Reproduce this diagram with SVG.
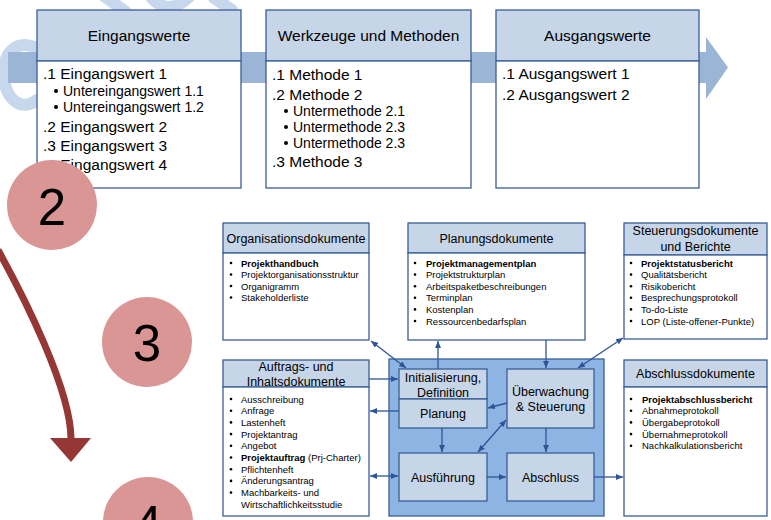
<svg xmlns="http://www.w3.org/2000/svg" width="771" height="520" viewBox="0 0 771 520">
  <defs>
    <style>
      text { font-family: "Liberation Sans", Arial, sans-serif; fill: #000; }
      .hdr { fill: #c6d5e8; stroke: #3a5f96; stroke-width: 1.3; }
      .body { fill: #ffffff; stroke: #3a5f96; stroke-width: 1.3; }
      .h1 { font-size: 15.5px; text-anchor: middle; }
      .t1 { font-size: 15.5px; }
      .t2 { font-size: 14px; }
      .h2 { font-size: 12.5px; text-anchor: middle; }
      .t3 { font-size: 9.5px; }
      .b { font-weight: bold; }
      .proc { fill: #c6d5e8; stroke: #3a5f96; stroke-width: 1.3; }
      .pt { font-size: 12.5px; text-anchor: middle; }
      .con { fill: none; stroke: #2f5597; stroke-width: 1.3; }
      .step { fill: #d99694; }
      .num { font-size: 51px; text-anchor: middle; }
      .swirl { fill: none; stroke: #c8d8ec; stroke-width: 12; stroke-linecap: round; }
    </style>
    <marker id="ah" viewBox="0 0 7 6" markerWidth="7" markerHeight="6" refX="7" refY="3" orient="auto-start-reverse" markerUnits="userSpaceOnUse">
      <path d="M0,0 L7,3 L0,6 z" fill="#2f5597"/>
    </marker>
  </defs>

  <!-- pale coil in the background -->
  <g id="coil">
    <path class="swirl" d="M37,48 C14,38 2,55 4,78 C6,100 22,112 37,100"/>
    <path class="swirl" d="M104,-4 L126,12"/>
    <path class="swirl" d="M150,-4 Q168,18 190,-4"/>
    <path class="swirl" d="M214,-2 L232,10"/>
  </g>

  <!-- process flow band -->
  <g id="band">
    <rect x="8" y="52" width="700" height="31" fill="#9bb5d6"/>
    <polygon points="706,37 728,67.5 706,99" fill="#9bb5d6"/>
  </g>

  <!-- input values -->
  <g id="eingangswerte">
    <rect class="hdr" x="37" y="10" width="204" height="51"/>
    <rect class="body" x="37" y="61" width="204" height="127"/>
    <text class="h1" x="139" y="40.5">Eingangswerte</text>
    <text class="t1" x="43" y="78.5">.1 Eingangswert 1</text>
    <circle cx="56" cy="91" r="2"/>
    <text class="t2" x="63" y="96">Untereingangswert 1.1</text>
    <circle cx="56" cy="107" r="2"/>
    <text class="t2" x="63" y="112">Untereingangswert 1.2</text>
    <text class="t1" x="43" y="131.5">.2 Eingangswert 2</text>
    <text class="t1" x="43" y="150.5">.3 Eingangswert 3</text>
    <text class="t1" x="43" y="169.5">.4 Eingangswert 4</text>
  </g>

  <!-- tools and methods -->
  <g id="werkzeuge">
    <rect class="hdr" x="266" y="10" width="205" height="51"/>
    <rect class="body" x="266" y="61" width="205" height="127"/>
    <text class="h1" x="368.5" y="40.5">Werkzeuge und Methoden</text>
    <text class="t1" x="272" y="79.5">.1 Methode 1</text>
    <text class="t1" x="272" y="99.5">.2 Methode 2</text>
    <circle cx="286" cy="111" r="2"/>
    <text class="t2" x="293" y="116">Untermethode 2.1</text>
    <circle cx="286" cy="127" r="2"/>
    <text class="t2" x="293" y="132">Untermethode 2.3</text>
    <circle cx="286" cy="143" r="2"/>
    <text class="t2" x="293" y="148">Untermethode 2.3</text>
    <text class="t1" x="272" y="166.5">.3 Methode 3</text>
  </g>

  <!-- output values -->
  <g id="ausgangswerte">
    <rect class="hdr" x="496" y="10" width="203" height="51"/>
    <rect class="body" x="496" y="61" width="203" height="127"/>
    <text class="h1" x="597.5" y="40.5">Ausgangswerte</text>
    <text class="t1" x="502" y="78.5">.1 Ausgangswert 1</text>
    <text class="t1" x="502" y="99.5">.2 Ausgangswert 2</text>
  </g>

  <!-- document groups -->
  <g id="organisationsdokumente">
    <rect class="hdr" x="223" y="223" width="146" height="30"/>
    <rect class="body" x="223" y="253" width="146" height="87"/>
    <text class="h2" x="296" y="242.5">Organisationsdokumente</text>
    <g class="t3">
      <circle cx="231" cy="263" r="1.3"/><text x="241" y="266.5" class="t3 b">Projekthandbuch</text>
      <circle cx="231" cy="274.5" r="1.3"/><text x="241" y="278" class="t3">Projektorganisationsstruktur</text>
      <circle cx="231" cy="286" r="1.3"/><text x="241" y="289.5" class="t3">Organigramm</text>
      <circle cx="231" cy="297.5" r="1.3"/><text x="241" y="301" class="t3">Stakeholderliste</text>
    </g>
  </g>

  <g id="planungsdokumente">
    <rect class="hdr" x="408" y="223" width="177" height="30"/>
    <rect class="body" x="408" y="253" width="177" height="87"/>
    <text class="h2" x="496.5" y="242.5">Planungsdokumente</text>
    <circle cx="415" cy="263" r="1.3"/><text x="426" y="266.5" class="t3 b">Projektmanagementplan</text>
    <circle cx="415" cy="274.6" r="1.3"/><text x="426" y="278.1" class="t3">Projektstrukturplan</text>
    <circle cx="415" cy="286.2" r="1.3"/><text x="426" y="289.7" class="t3">Arbeitspaketbeschreibungen</text>
    <circle cx="415" cy="297.8" r="1.3"/><text x="426" y="301.3" class="t3">Terminplan</text>
    <circle cx="415" cy="309.4" r="1.3"/><text x="426" y="312.9" class="t3">Kostenplan</text>
    <circle cx="415" cy="321" r="1.3"/><text x="426" y="324.5" class="t3">Ressourcenbedarfsplan</text>
  </g>

  <g id="steuerungsdokumente">
    <rect class="hdr" x="624" y="223" width="143" height="32"/>
    <rect class="body" x="624" y="255" width="143" height="84"/>
    <text class="h2" x="695.5" y="234.5">Steuerungsdokumente</text>
    <text class="h2" x="695.5" y="251">und Berichte</text>
    <circle cx="631" cy="263" r="1.3"/><text x="641" y="266.5" class="t3 b">Projektstatusbericht</text>
    <circle cx="631" cy="274.6" r="1.3"/><text x="641" y="278.1" class="t3">Qualitätsbericht</text>
    <circle cx="631" cy="286.2" r="1.3"/><text x="641" y="289.7" class="t3">Risikobericht</text>
    <circle cx="631" cy="297.8" r="1.3"/><text x="641" y="301.3" class="t3">Besprechungsprotokoll</text>
    <circle cx="631" cy="309.4" r="1.3"/><text x="641" y="312.9" class="t3">To-do-Liste</text>
    <circle cx="631" cy="321" r="1.3"/><text x="641" y="324.5" class="t3">LOP (Liste-offener-Punkte)</text>
  </g>

  <g id="auftragsdokumente">
    <rect class="hdr" x="223" y="360" width="146" height="27"/>
    <rect class="body" x="223" y="387" width="146" height="129"/>
    <text class="h2" x="296" y="371">Auftrags- und</text>
    <text class="h2" x="296" y="385.5">Inhaltsdokumente</text>
    <circle cx="231" cy="399" r="1.3"/><text x="241" y="402.5" class="t3">Ausschreibung</text>
    <circle cx="231" cy="410.7" r="1.3"/><text x="241" y="414.2" class="t3">Anfrage</text>
    <circle cx="231" cy="422.4" r="1.3"/><text x="241" y="425.9" class="t3">Lastenheft</text>
    <circle cx="231" cy="434.1" r="1.3"/><text x="241" y="437.6" class="t3">Projektantrag</text>
    <circle cx="231" cy="445.8" r="1.3"/><text x="241" y="449.3" class="t3">Angebot</text>
    <circle cx="231" cy="457.5" r="1.3"/><text x="241" y="461" class="t3"><tspan class="b">Projektauftrag</tspan> (Prj-Charter)</text>
    <circle cx="231" cy="469.2" r="1.3"/><text x="241" y="472.7" class="t3">Pflichtenheft</text>
    <circle cx="231" cy="480.9" r="1.3"/><text x="241" y="484.4" class="t3">Änderungsantrag</text>
    <circle cx="231" cy="492.6" r="1.3"/><text x="241" y="496.1" class="t3">Machbarkeits- und</text>
    <text x="241" y="507.8" class="t3">Wirtschaftlichkeitsstudie</text>
  </g>

  <g id="abschlussdokumente">
    <rect class="hdr" x="624" y="360" width="143" height="27"/>
    <rect class="body" x="624" y="387" width="143" height="129"/>
    <text class="h2" x="695.5" y="377.5">Abschlussdokumente</text>
    <circle cx="631" cy="399" r="1.3"/><text x="642" y="402.5" class="t3 b">Projektabschlussbericht</text>
    <circle cx="631" cy="410.7" r="1.3"/><text x="642" y="414.2" class="t3">Abnahmeprotokoll</text>
    <circle cx="631" cy="422.4" r="1.3"/><text x="642" y="425.9" class="t3">Übergabeprotokoll</text>
    <circle cx="631" cy="434.1" r="1.3"/><text x="642" y="437.6" class="t3">Übernahmeprotokoll</text>
    <circle cx="631" cy="445.8" r="1.3"/><text x="642" y="449.3" class="t3">Nachkalkulationsbericht</text>
  </g>

  <!-- project phases -->
  <g id="phasen">
    <rect x="389" y="359" width="215" height="157" fill="#8eb4e3" stroke="#3a5f96" stroke-width="1.3"/>
  </g>
  <g id="initialisierung">
    <rect class="proc" x="399" y="369" width="88" height="30"/>
    <text class="pt" x="443" y="381.5">Initialisierung,</text>
    <text class="pt" x="443" y="396.5">Definition</text>
  </g>
  <g id="planung">
    <rect class="proc" x="399" y="399" width="88" height="29"/>
    <text class="pt" x="443" y="417.5">Planung</text>
  </g>
  <g id="ueberwachung">
    <rect class="proc" x="507" y="369" width="87" height="59"/>
    <text class="pt" x="550.5" y="395.5">Überwachung</text>
    <text class="pt" x="550.5" y="410.5">&amp; Steuerung</text>
  </g>
  <g id="ausfuehrung">
    <rect class="proc" x="399" y="453" width="88" height="48"/>
    <text class="pt" x="443" y="481.5">Ausführung</text>
  </g>
  <g id="abschluss">
    <rect class="proc" x="507" y="453" width="87" height="48"/>
    <text class="pt" x="550.5" y="481.5">Abschluss</text>
  </g>

  <!-- connectors -->
  <g id="connectors">
    <path class="con" d="M371,341 L406,368" marker-start="url(#ah)" marker-end="url(#ah)"/>
    <path class="con" d="M438,369 L438,341" marker-end="url(#ah)"/>
    <path class="con" d="M546,340 L546,368" marker-end="url(#ah)"/>
    <path class="con" d="M623,338 L578,368" marker-start="url(#ah)" marker-end="url(#ah)"/>
    <path class="con" d="M369,379 L398,379" marker-end="url(#ah)"/>
    <path class="con" d="M399,411 L370,411" marker-end="url(#ah)"/>
    <path class="con" d="M370,476 L398,476" marker-start="url(#ah)" marker-end="url(#ah)"/>
    <path class="con" d="M442,428 L442,452" marker-end="url(#ah)"/>
    <path class="con" d="M546,428 L546,452" marker-end="url(#ah)"/>
    <path class="con" d="M487,477 L506,477" marker-end="url(#ah)"/>
    <path class="con" d="M507,403 L488,408" marker-end="url(#ah)"/>
    <path class="con" d="M478,452 L506,420" marker-start="url(#ah)" marker-end="url(#ah)"/>
    <path class="con" d="M594,477 L623,477" marker-end="url(#ah)"/>
  </g>

  <!-- step markers -->
  <g id="schritt2">
    <circle class="step" cx="52" cy="205" r="45"/>
    <text class="num" x="52" y="225">2</text>
  </g>
  <g id="schritt3">
    <circle class="step" cx="147" cy="342" r="45"/>
    <text class="num" x="147" y="360.5">3</text>
  </g>
  <g id="schritt4">
    <circle class="step" cx="148" cy="522" r="45"/>
    <text class="num" x="148" y="542">4</text>
  </g>

  <g id="ablauf">
    <path d="M-2,250 C24,297 71,390 71,439" fill="none" stroke="#953735" stroke-width="7"/>
    <polygon points="50,438 91,438 71,462" fill="#953735"/>
  </g>
</svg>
